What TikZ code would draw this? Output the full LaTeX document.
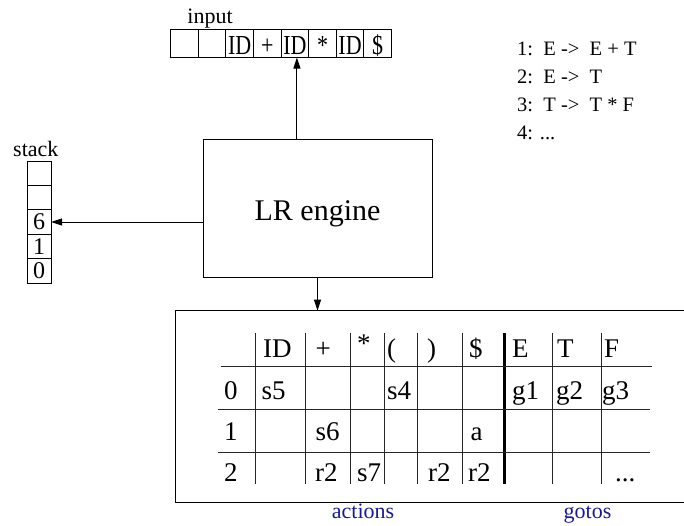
\documentclass[tikz,border=0pt]{standalone}
\usepackage{fontspec}
\usepackage{graphicx}
\setmainfont{Liberation Serif}
\usetikzlibrary{arrows.meta,calc}
\definecolor{labelblue}{RGB}{25,25,145}
\newcommand{\tallglyph}[1]{\scalebox{1}[1.25]{#1}}
\tikzset{
  frame/.style={draw, line width=0.9pt, inner sep=0pt, outer sep=0pt},
  incell/.style={frame, minimum width=27.6pt, minimum height=28.5pt,
    text height=23pt, text depth=0pt,
    font=\fontsize{22}{22}\selectfont},
  stackcell/.style={frame, minimum width=24pt, minimum height=24.4pt,
    font=\fontsize{24}{24}\selectfont},
  caption/.style={inner sep=0pt, anchor=base, font=\fontsize{22}{22}\selectfont},
  rule/.style={inner sep=0pt, anchor=base west, font=\fontsize{20.5}{21}\selectfont},
  entry/.style={inner sep=0pt, anchor=base west, font=\fontsize{27}{27}\selectfont},
  tabline/.style={line width=1pt, draw=black!85},
  divider/.style={line width=3pt},
  part/.style={inner sep=0pt, anchor=base, text=labelblue,
    font=\fontsize{22}{22}\selectfont},
  arr/.style={line width=0.9pt, -{Triangle[length=11pt,width=7pt]}},
}
\begin{document}
\begin{tikzpicture}[x=1pt, y=-1pt]
\useasboundingbox (0,0) rectangle (684,525);
\clip (0,0) rectangle (684,525);

% input tape
\node[caption] (inputlabel) at (210,23.3) {input};
\foreach \i/\t in {1/,2/,3/ID,4/+,5/ID,6/*,7/ID,8/\$}
  \node[incell] (in\i) at ({170.7+27.6*(\i-0.5)},43.3) {\tallglyph{\t}};

% stack
\node[caption] (stacklabel) at (35.8,156.7) {stack};
\foreach \i/\t in {1/,2/,3/6,4/1,5/0}
  \node[stackcell] (st\i) at (39,{161+24.4*(\i-0.5)}) {\t};

% grammar rules
\node[rule] (rule1) at (517,55.5)  {1:\ \ E ->\ \ E + T};
\node[rule] (rule2) at (517,83.5)  {2:\ \ E ->\ \ T};
\node[rule] (rule3) at (517,111.2) {3:\ \ T ->\ \ T * F};
\node[rule] (rule4) at (517,139)   {4: ...};

% engine
\node[frame, minimum width=229pt, minimum height=138pt,
      text height=28pt, text depth=4pt,
      font=\fontsize{30}{30}\selectfont] (engine) at (317.5,208) {LR engine};

% parse table frame
\node[frame, anchor=north west, minimum width=520pt, minimum height=191.3pt]
  (tbl) at (175.7,310.7) {};

% table rules
\foreach \x in {255,305.7,350,384.3,417.3,462.7,552.7,601}
  \draw[tabline] (\x,333) -- (\x,484);
\draw[divider] (504.3,333) -- (504.3,484);
\draw[tabline] (220.7,366.7) -- (652.3,366.7);
\draw[tabline] (218,409.3) -- (650,409.3);
\draw[tabline] (218,452.7) -- (650,452.7);

% header row
\foreach \n/\x/\t in {hid/263/ID, hplus/315.5/+, hend/469/\$,
                      hE/512/E, hT/557/T, hF/604/F}
  \node[entry] (\n) at (\x,357.3) {\t};
\node[entry] (hstar) at (357,352) {*};
\node[entry] (hlp) at (387,357.3) {(};
\node[entry] (hrp) at (427,357.3) {)};

% state rows
\foreach \n/\x/\y/\t in {
    s0/224/399.3/0, a05/261.5/399.3/s5, a04/387/399.3/s4,
    g0E/512/399.3/g1, g0T/556/399.3/g2, g0F/602/399.3/g3,
    s1/224/440.7/1, a16/315.5/440.7/s6, a1a/470.5/440.7/a,
    s2/224/481.7/2, a2p/315/481.7/r2, a2s/357/481.7/s7,
    a2r/428/481.7/r2, a2e/468/481.7/r2}
  \node[entry] (\n) at (\x,\y) {\t};
\node[entry] (g2d) at (615,481.7) {...};

% section labels
\node[part] (actions) at (363,518.5) {actions};
\node[part] (gotos) at (587.5,518.5) {gotos};

% connectors
\draw[arr] ([xshift=2pt]engine.north -| in5.south) -- ([xshift=2pt]in5.south);
\draw[arr] (engine.west |- st3.east) -- (st3.east);
\draw[arr] (engine.south) -- (engine.south |- tbl.north);
\end{tikzpicture}
\end{document}
